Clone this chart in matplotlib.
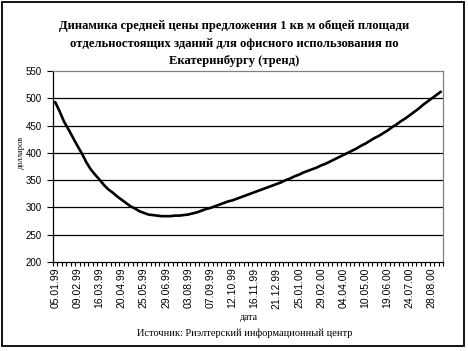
import matplotlib
matplotlib.use("Agg")
import matplotlib.pyplot as plt
from matplotlib.patches import Rectangle

title = "Динамика средней цены предложения 1 кв м общей площади\nотдельностоящих зданий для офисного использования по\nЕкатеринбургу (тренд)"
y_label = "долларов"
x_label = "дата"
source = "Источник: Риэлтерский информационный центр"

tick_labels = ["05.01.99", "09.02.99", "16.03.99", "20.04.99", "25.05.99", "29.06.99",
               "03.08.99", "07.09.99", "12.10.99", "16.11.99", "21.12.99", "25.01.00",
               "29.02.00", "04.04.00", "10.05.00", "19.06.00", "24.07.00", "28.08.00"]

prices = [493, 476, 457, 443, 428, 413, 399, 383, 370, 360,
          351, 341, 333, 327, 320, 314, 308, 302, 298, 293,
          290, 287, 286, 285, 284, 284, 284, 285, 285, 286,
          287, 289, 291, 294, 297, 299, 302, 305, 308, 311,
          313, 316, 319, 322, 325, 328, 331, 334, 337, 340,
          343, 346, 350, 353, 357, 360, 364, 367, 370, 373,
          377, 380, 384, 388, 392, 396, 400, 404, 408, 413,
          417, 422, 427, 431, 436, 441, 447, 452, 458, 463,
          469, 475, 481, 488, 494, 500, 506, 512]

fig = plt.figure(figsize=(4.68, 3.51), dpi=100)
fig.patches.append(Rectangle((2/468, 5/351), 462/468, 344/351, transform=fig.transFigure,
                             fill=False, edgecolor="black", linewidth=1.3))

ax = fig.add_axes([53/468, 1-262/351, 390/468, 191/351])
n = len(prices)
ax.plot(range(n), prices, color="black", linewidth=1.9, solid_capstyle="round")
ax.set_xlim(-0.5, n - 0.5)
ax.set_ylim(200, 550)
ax.set_yticks(range(200, 551, 50))
for v in range(250, 501, 50):
    ax.axhline(v, color="black", linewidth=0.9, zorder=0)

ax.set_xticks([5*i for i in range(len(tick_labels))])
ax.set_xticklabels(tick_labels, rotation=90, fontsize=7.5, family="Liberation Sans")
ax.set_xticks([i - 0.5 for i in range(n + 1)], minor=True)
ax.tick_params(axis="x", which="major", length=0, pad=4)
ax.tick_params(axis="x", which="minor", length=3, width=0.8, direction="out")
ax.tick_params(axis="y", length=4, width=0.8, labelsize=7, pad=4)
for lab in ax.get_yticklabels():
    lab.set_family("Liberation Sans")

for s in ["left", "bottom"]:
    ax.spines[s].set_color("black")
    ax.spines[s].set_linewidth(0.9)
for s in ["top", "right"]:
    ax.spines[s].set_color("#808080")
    ax.spines[s].set_linewidth(0.9)

serif = "Liberation Serif"
fig.text(234/468, 1-43.5/351, title, ha="center", va="center", fontsize=9.1,
         fontweight="bold", family=serif, linespacing=1.6)
fig.text(21/468, 1-152/351, y_label, rotation=90, ha="center", va="center",
         fontsize=6, family=serif)
fig.text(249/468, 1-318/351, x_label, ha="center", va="center", fontsize=7, family=serif)
fig.text(245/468, 1-333/351, source, ha="center", va="center", fontsize=7.5, family=serif)

fig.savefig("out.png", dpi=100)
